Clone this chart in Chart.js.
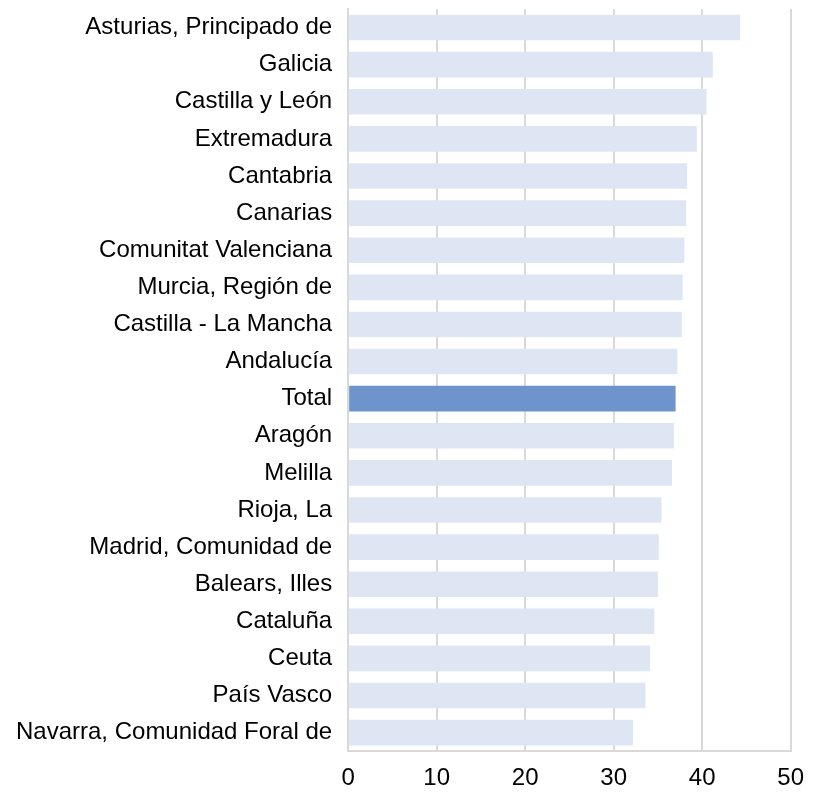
<!DOCTYPE html>
<html>
<head>
    <title>Regiones</title>
    <style>
        html, body { margin: 0; padding: 0; background: #ffffff; }
        #wrap { width: 817px; height: 794px; }
    </style>
</head>
<body>
    <div id="wrap"><canvas id="barChart"></canvas></div>

    <script src="https://cdn.jsdelivr.net/npm/chart.js"></script>
    <script>
        var regiones = [
            'Asturias, Principado de', 'Galicia', 'Castilla y León', 'Extremadura',
            'Cantabria', 'Canarias', 'Comunitat Valenciana', 'Murcia, Región de',
            'Castilla - La Mancha', 'Andalucía', 'Total', 'Aragón', 'Melilla',
            'Rioja, La', 'Madrid, Comunidad de', 'Balears, Illes', 'Cataluña',
            'Ceuta', 'País Vasco', 'Navarra, Comunidad Foral de'
        ];
        var valores = [
            44.3, 41.2, 40.5, 39.4, 38.3, 38.2, 38.0, 37.8, 37.7, 37.2,
            37.0, 36.8, 36.6, 35.4, 35.1, 35.0, 34.6, 34.1, 33.6, 32.2
        ];
        var xTicks = [0, 10, 20, 30, 40, 50];

        var colorBar = '#dfe6f3';
        var colorTotal = '#6f94cc';
        var barColors = regiones.map(function (r) { return r === 'Total' ? colorTotal : colorBar; });

        Chart.defaults.font.family = '"Liberation Sans", Arial, sans-serif';
        Chart.defaults.font.size = 24;
        Chart.defaults.color = '#000000';

        new Chart(document.getElementById('barChart').getContext('2d'), {
            type: 'bar',
            data: {
                labels: regiones,
                datasets: [{
                    data: valores,
                    backgroundColor: barColors,
                    barPercentage: 0.69,
                    categoryPercentage: 1.0
                }]
            },
            options: {
                indexAxis: 'y',
                responsive: true,
                maintainAspectRatio: false,
                animation: false,
                layout: { padding: { top: 9, right: 2, bottom: -12, left: 0 } },
                plugins: { legend: { display: false }, tooltip: { enabled: false } },
                scales: {
                    x: {
                        min: 0,
                        max: 50,
                        afterBuildTicks: function (axis) {
                            axis.ticks = xTicks.map(function (v) { return { value: v }; });
                        },
                        grid: { color: '#d9d9d9', lineWidth: 2, drawTicks: false },
                        border: { color: '#d9d9d9', width: 2 },
                        ticks: { padding: 13 }
                    },
                    y: {
                        afterFit: function (axis) {
                            axis.paddingTop = 0;
                        },
                        grid: { display: false, drawTicks: false },
                        border: { color: '#d9d9d9', width: 2 },
                        ticks: { padding: 16, autoSkip: false, font: { size: 24, lineHeight: 0.1 } }
                    }
                }
            }
        });
    </script>
</body>
</html>
